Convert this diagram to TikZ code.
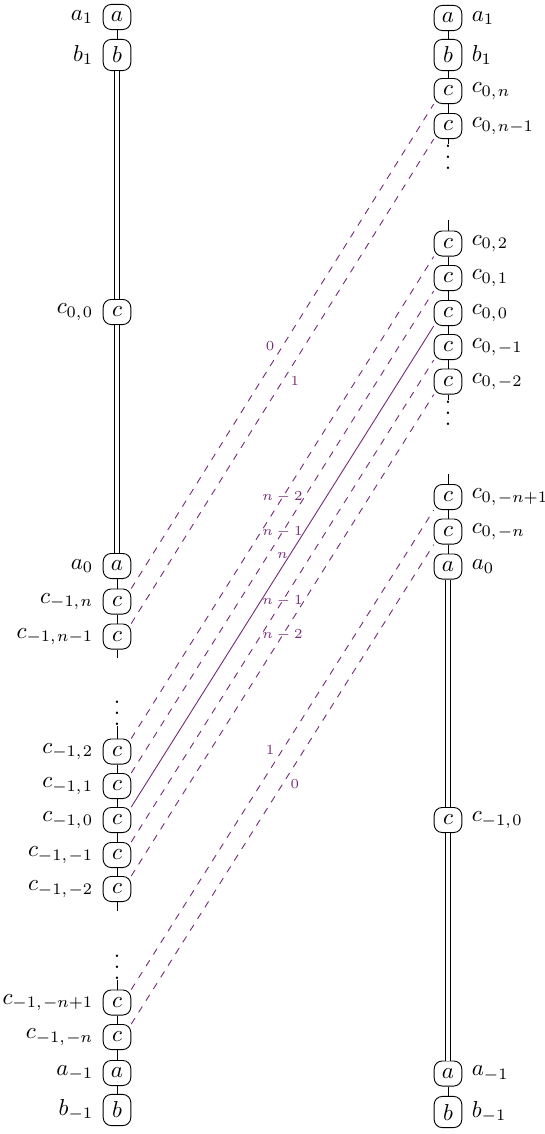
\documentclass[tikz,border=0pt]{standalone}
\usepackage{amsmath}
\usepackage{amssymb}
\usepackage[dvipsnames]{xcolor}
\definecolor{twist}{RGB}{118,45,120}
\usetikzlibrary{positioning}
\newcommand{\cgap}{\mkern1.5mu}
\newcommand{\threedots}{\vbox{\baselineskip4.8pt\lineskiplimit0pt\hbox{.}\hbox{.}\hbox{.}}}
\tikzset{vert/.style={draw, rounded corners=3.5pt, fill=white, inner sep=3.3pt, minimum width=12pt}}
\tikzset{glue/.style={double, double distance=1.5pt}}
\tikzset{vdot/.style={inner sep=0pt, text height=10.7pt, text depth=0pt}}
\tikzset{wt/.style={twist, font=\fontsize{6}{7}\selectfont}}

\begin{document}
\begin{tikzpicture}[x=0.4348pt, y=-0.4348pt, thin, label distance=0.6pt]
\useasboundingbox (0,0) rectangle (544,1134);

	% left chain
	\node[vert, label=left:{$a_1$}] (la1) at (117,17) {$a$};
	\node[vert, label=left:{$b_1$}] (lb1) at (117,55) {$b$};
	\node[vert, label=left:{$c_{0,\cgap 0}$}] (lc00) at (117,312) {$c$};
	\node[vert, label=left:{$a_0$}] (la0) at (117,566) {$a$};
	\node[vert, label=left:{$c_{-1,\cgap n}$}] (lcn) at (117,601.5) {$c$};
	\node[vert, label=left:{$c_{-1,\cgap n-1}$}] (lcnm) at (117,636.5) {$c$};
	\coordinate (lstub1) at (117,658);
	\node[vdot] (ldots1) at (117,713) {\threedots};
	\node[vert, label=left:{$c_{-1,\cgap 2}$}] (lcp2) at (117,751.5) {$c$};
	\node[vert, label=left:{$c_{-1,\cgap 1}$}] (lcp1) at (117,786) {$c$};
	\node[vert, label=left:{$c_{-1,\cgap 0}$}] (lc0) at (117,820) {$c$};
	\node[vert, label=left:{$c_{-1,\cgap -1}$}] (lcm1) at (117,855) {$c$};
	\node[vert, label=left:{$c_{-1,\cgap -2}$}] (lcm2) at (117,889) {$c$};
	\coordinate (lstub2) at (117,911);
	\node[vdot] (ldots2) at (117,967) {\threedots};
	\node[vert, label=left:{$c_{-1,\cgap -n+1}$}] (lcmnp) at (117,1002.5) {$c$};
	\node[vert, label=left:{$c_{-1,\cgap -n}$}] (lcmn) at (117,1037) {$c$};
	\node[vert, label=left:{$a_{-1}$}] (lam1) at (117,1073) {$a$};
	\node[vert, label=left:{$b_{-1}$}] (lbm1) at (117,1110) {$b$};

	% right chain
	\node[vert, label=right:{$a_1$}] (ra1) at (448,18) {$a$};
	\node[vert, label=right:{$b_1$}] (rb1) at (448,55) {$b$};
	\node[vert, label=right:{$c_{0,\cgap n}$}] (rcn) at (448,91) {$c$};
	\node[vert, label=right:{$c_{0,\cgap n-1}$}] (rcnm) at (448,126) {$c$};
	\node[vdot] (rdots1) at (448,157) {\threedots};
	\coordinate (rstub1) at (448,220);
	\node[vert, label=right:{$c_{0,\cgap 2}$}] (rcp2) at (448,243.5) {$c$};
	\node[vert, label=right:{$c_{0,\cgap 1}$}] (rcp1) at (448,278) {$c$};
	\node[vert, label=right:{$c_{0,\cgap 0}$}] (rc0) at (448,313) {$c$};
	\node[vert, label=right:{$c_{0,\cgap -1}$}] (rcm1) at (448,347) {$c$};
	\node[vert, label=right:{$c_{0,\cgap -2}$}] (rcm2) at (448,381.5) {$c$};
	\node[vdot] (rdots2) at (448,413) {\threedots};
	\coordinate (rstub2) at (448,474);
	\node[vert, label=right:{$c_{0,\cgap -n+1}$}] (rcmnp) at (448,497) {$c$};
	\node[vert, label=right:{$c_{0,\cgap -n}$}] (rcmn) at (448,531.5) {$c$};
	\node[vert, label=right:{$a_0$}] (ra0) at (448,566.5) {$a$};
	\node[vert, label=right:{$c_{-1,\cgap 0}$}] (rc10) at (448,820) {$c$};
	\node[vert, label=right:{$a_{-1}$}] (ram1) at (448,1073.5) {$a$};
	\node[vert, label=right:{$b_{-1}$}] (rbm1) at (448,1112) {$b$};

	% left edges
	\draw (la1) -- (lb1);
	\draw[glue] (lb1) -- (lc00);
	\draw[glue] (lc00) -- (la0);
	\draw (la0) -- (lcn);
	\draw (lcn) -- (lcnm);
	\draw (lcnm) -- (lstub1);
	\draw (ldots1) -- (lcp2);
	\draw (lcp2) -- (lcp1);
	\draw (lcp1) -- (lc0);
	\draw (lc0) -- (lcm1);
	\draw (lcm1) -- (lcm2);
	\draw (lcm2) -- (lstub2);
	\draw (ldots2) -- (lcmnp);
	\draw (lcmnp) -- (lcmn);
	\draw (lcmn) -- (lam1);
	\draw (lam1) -- (lbm1);

	% right edges
	\draw (ra1) -- (rb1);
	\draw (rb1) -- (rcn);
	\draw (rcn) -- (rcnm);
	\draw (rcnm) -- (rdots1);
	\draw (rstub1) -- (rcp2);
	\draw (rcp2) -- (rcp1);
	\draw (rcp1) -- (rc0);
	\draw (rc0) -- (rcm1);
	\draw (rcm1) -- (rcm2);
	\draw (rcm2) -- (rdots2);
	\draw (rstub2) -- (rcmnp);
	\draw (rcmnp) -- (rcmn);
	\draw (rcmn) -- (ra0);
	\draw[glue] (ra0) -- (rc10);
	\draw[glue] (rc10) -- (ram1);
	\draw (ram1) -- (rbm1);

	% twisting strands
	\draw[twist, dashed] (lcn.north east) -- node[wt, left] {$0$} (rcn.south west);
	\draw[twist, dashed] (lcnm.north east) -- node[wt, right] {$1$} (rcnm.south west);
	\draw[twist, dashed] (lcp2.north east) -- node[wt] {$n-2$} (rcp2.south west);
	\draw[twist, dashed] (lcp1.north east) -- node[wt] {$n-1$} (rcp1.south west);
	\draw[twist] (lc0.north east) -- node[wt, above] {$n$} (rc0.south west);
	\draw[twist, dashed] (lcm1.north east) -- node[wt] {$n-1$} (rcm1.south west);
	\draw[twist, dashed] (lcm2.north east) -- node[wt] {$n-2$} (rcm2.south west);
	\draw[twist, dashed] (lcmnp.north east) -- node[wt, left] {$1$} (rcmnp.south west);
	\draw[twist, dashed] (lcmn.north east) -- node[wt, right] {$0$} (rcmn.south west);

\end{tikzpicture}
\end{document}
